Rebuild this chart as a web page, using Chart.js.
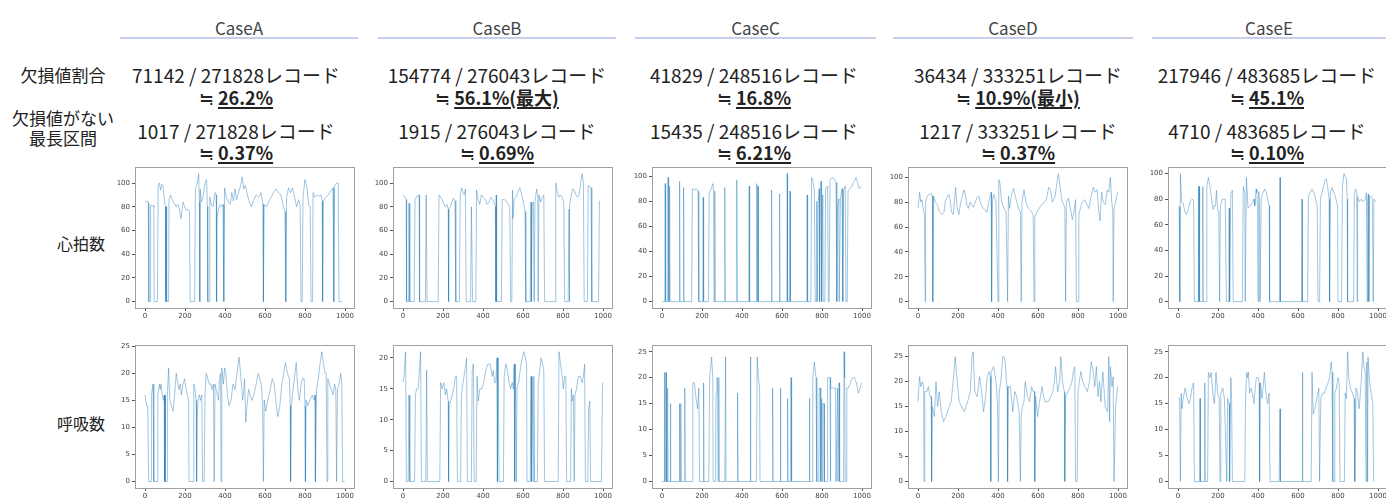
<!DOCTYPE html>
<html>
<head>
<meta charset="utf-8">
<script src="https://cdn.jsdelivr.net/npm/chart.js@4"></script>
<style>
  html, body { margin: 0; padding: 0; background: #fff; }
  body { width: 1386px; height: 498px; overflow: hidden; position: relative;
         font-family: "Noto Sans CJK JP", "Noto Sans", sans-serif; color: #222; }
  .abs { position: absolute; white-space: nowrap; }
  .head { font-size: 17px; color: #444; text-align: center; width: 240px; line-height: 20px; }
  .rule { height: 2px; background: #c9cfea; }
  .txt { font-size: 19px; text-align: center; width: 280px; line-height: 22px; }
  .pct { font-size: 18px; text-align: center; width: 280px; line-height: 22px; }
  .pct b { text-decoration: underline; text-underline-offset: 2px; text-decoration-thickness: 2px; }
  .lab { font-size: 17px; text-align: center; width: 120px; line-height: 20px; }
  .lab2 { font-size: 16px; text-align: center; width: 120px; line-height: 20px; }
  canvas { position: absolute; }
</style>
</head>
<body>
<script>
// ---- text ----
const cases = ['CaseA', 'CaseB', 'CaseC', 'CaseD', 'CaseE'];
const missingText = ['71142 / 271828レコード', '154774 / 276043レコード', '41829 / 248516レコード', '36434 / 333251レコード', '217946 / 483685レコード'];
const missingPct = ['26.2%', '56.1%(最大)', '16.8%', '10.9%(最小)', '45.1%'];
const longestText = ['1017 / 271828レコード', '1915 / 276043レコード', '15435 / 248516レコード', '1217 / 333251レコード', '4710 / 483685レコード'];
const longestPct = ['0.37%', '0.69%', '6.21%', '0.37%', '0.10%'];

// ---- tick labels ----
const xTicks = [0, 200, 400, 600, 800, 1000];
const hrTicks = [0, 20, 40, 60, 80, 100];
const resTicks = [0, 5, 10, 15, 20, 25];
const resTicksB = [0, 5, 10, 15, 20];

// ---- heart rate (心拍数) [index, value] ----
const hrA = [[0,85],[8,84],[14,85],[17,83],[19,0],[26,0],[28,81],[40,81],[44,80],[46,0],[62,0],[66,98],[72,100],[78,94],[84,99],[90,98],[96,88],[102,80],[104,0],[106,80],[108,0],[118,0],[120,86],[128,90],[136,86],[146,83],[156,80],[164,82],[172,78],[180,70],[190,84],[198,80],[206,77],[214,78],[222,76],[226,0],[248,0],[252,95],[262,100],[268,108],[272,84],[274,0],[276,95],[282,84],[290,88],[300,100],[308,103],[312,80],[314,0],[322,0],[324,88],[332,82],[340,80],[350,92],[356,90],[358,0],[360,70],[368,78],[376,82],[384,80],[390,82],[394,0],[398,96],[406,88],[416,84],[426,82],[434,92],[442,85],[450,95],[458,86],[468,92],[478,98],[486,105],[494,95],[502,98],[512,90],[522,84],[532,80],[544,86],[556,90],[568,88],[580,92],[590,82],[592,0],[596,82],[606,80],[618,84],[630,88],[642,92],[654,95],[666,92],[680,90],[692,80],[700,76],[704,0],[708,88],[718,96],[728,92],[738,96],[748,88],[758,80],[768,86],[776,82],[780,0],[786,0],[790,88],[800,103],[810,96],[818,82],[826,80],[830,0],[838,0],[840,92],[850,88],[860,90],[870,89],[880,90],[886,85],[888,0],[892,85],[904,88],[916,90],[928,93],[940,96],[944,0],[948,98],[958,100],[966,100],[970,0],[985,0]];
const hrB = [[0,90],[10,88],[16,86],[18,0],[28,0],[30,83],[34,0],[56,0],[60,86],[70,89],[80,90],[83,0],[112,0],[116,90],[120,0],[176,0],[180,90],[190,88],[200,84],[210,80],[220,82],[226,78],[228,0],[230,78],[236,80],[244,84],[252,87],[260,85],[264,0],[282,0],[286,90],[294,96],[300,92],[306,90],[312,95],[316,0],[338,0],[342,80],[348,0],[364,0],[368,94],[376,86],[384,82],[392,90],[402,88],[412,86],[420,82],[430,84],[440,88],[450,86],[458,82],[462,80],[464,0],[466,90],[468,0],[492,0],[496,86],[506,86],[516,85],[526,82],[534,80],[538,0],[544,0],[548,94],[550,70],[556,86],[564,88],[574,92],[584,96],[594,90],[602,84],[610,76],[614,0],[636,0],[640,84],[642,0],[646,82],[652,84],[656,0],[660,85],[668,95],[674,88],[676,0],[680,90],[688,84],[696,88],[704,90],[708,0],[760,0],[764,100],[772,92],[780,88],[788,90],[796,88],[804,84],[808,0],[826,0],[830,78],[832,0],[834,82],[840,88],[848,95],[856,94],[864,90],[872,88],[880,90],[888,100],[896,108],[902,100],[906,0],[922,0],[926,98],[934,97],[940,96],[944,0],[978,0],[982,85]];
const hrC = [[0,0],[14,0],[16,94],[18,0],[28,0],[30,99],[32,0],[34,93],[36,0],[38,92],[40,0],[86,0],[88,96],[90,0],[106,0],[108,91],[110,0],[148,0],[152,90],[162,89],[172,90],[180,88],[184,0],[204,0],[206,83],[208,0],[232,0],[236,86],[246,90],[254,94],[258,88],[260,0],[264,88],[266,0],[312,0],[314,91],[316,0],[372,0],[374,97],[376,0],[434,0],[436,92],[438,0],[472,0],[474,94],[476,0],[480,92],[482,0],[546,0],[548,89],[550,0],[586,0],[588,86],[590,0],[624,0],[626,102],[628,0],[638,0],[640,88],[642,0],[724,0],[726,85],[728,0],[744,0],[748,99],[756,95],[762,88],[766,0],[772,0],[774,80],[776,0],[780,76],[786,90],[788,0],[792,95],[796,96],[798,0],[804,85],[806,0],[814,0],[818,90],[828,92],[832,0],[836,0],[840,97],[850,99],[860,98],[870,95],[874,0],[878,75],[884,82],[886,0],[892,82],[900,90],[904,0],[908,88],[916,92],[920,0],[926,0],[930,88],[940,90],[950,92],[962,96],[970,99],[978,95],[986,90],[998,92]];
const hrD = [[0,75],[8,88],[14,80],[20,82],[26,75],[32,70],[36,0],[38,80],[46,85],[56,86],[66,87],[72,85],[74,0],[78,85],[86,80],[96,78],[108,72],[120,70],[130,72],[136,80],[148,85],[156,86],[162,80],[168,72],[176,70],[188,92],[196,75],[204,70],[214,80],[222,85],[230,90],[238,85],[244,78],[252,75],[260,80],[268,78],[276,76],[286,80],[296,84],[304,85],[312,80],[322,76],[334,74],[344,72],[354,80],[366,88],[368,0],[372,82],[380,86],[390,80],[400,0],[404,98],[410,95],[418,80],[430,75],[440,72],[448,0],[452,85],[458,75],[466,85],[478,91],[486,85],[494,80],[502,75],[512,72],[516,0],[520,80],[530,90],[540,80],[552,75],[564,73],[576,70],[580,0],[584,68],[594,72],[606,75],[618,78],[632,80],[642,82],[654,92],[662,90],[672,80],[686,85],[694,95],[702,103],[712,90],[722,80],[734,76],[738,0],[742,80],[752,83],[762,75],[772,66],[780,72],[788,82],[792,0],[800,0],[804,70],[812,75],[822,80],[834,82],[844,78],[854,75],[866,85],[876,92],[886,88],[896,90],[902,75],[910,65],[918,88],[926,80],[936,78],[946,90],[954,88],[962,100],[968,82],[974,72],[976,0],[980,75],[988,80],[998,88]];
const hrE = [[0,75],[6,74],[9,0],[12,100],[18,78],[26,77],[34,70],[42,68],[51,72],[60,78],[70,80],[78,79],[82,0],[100,0],[102,90],[104,0],[106,90],[108,0],[122,0],[124,90],[126,0],[140,0],[144,90],[152,97],[160,90],[168,80],[176,72],[182,75],[188,75],[192,87],[198,72],[204,70],[208,0],[212,75],[222,80],[236,80],[242,0],[254,0],[256,73],[258,0],[264,84],[272,87],[276,0],[322,0],[326,90],[334,85],[336,0],[342,97],[350,73],[362,75],[374,78],[380,80],[384,75],[390,88],[394,85],[398,73],[400,0],[404,86],[408,72],[410,0],[416,80],[424,85],[434,88],[442,85],[450,78],[456,75],[458,0],[508,0],[510,97],[512,0],[618,0],[620,80],[622,0],[648,0],[652,82],[660,85],[670,88],[680,85],[688,80],[696,75],[700,0],[708,0],[712,80],[720,85],[728,90],[736,95],[742,96],[748,90],[752,85],[756,80],[758,0],[762,85],[770,89],[780,85],[790,80],[798,75],[800,0],[818,0],[822,90],[830,100],[836,98],[842,96],[846,80],[848,0],[878,0],[882,85],[888,88],[894,85],[896,0],[898,82],[906,78],[916,80],[926,78],[936,80],[942,85],[946,0],[948,80],[952,84],[954,0],[958,82],[966,82],[972,80],[976,0],[980,80],[990,78]];

// ---- respiration (呼吸数) [index, value] ----
const resA = [[0,16],[8,14],[14,14],[18,0],[30,0],[32,16],[40,18],[44,0],[60,0],[64,16],[72,18],[76,17],[80,18],[86,16],[92,15],[96,16],[98,0],[100,16],[102,0],[110,0],[112,16],[118,21],[124,15],[132,14],[140,13],[148,16],[156,20],[164,18],[170,17],[176,18],[182,16],[190,18],[198,19],[206,17],[212,16],[218,15],[220,0],[240,0],[244,18],[250,17],[256,15],[258,0],[262,13],[266,15],[272,16],[278,15],[284,16],[288,0],[296,0],[300,16],[306,20],[314,19],[322,18],[330,18],[336,17],[342,18],[346,0],[350,18],[356,17],[362,16],[368,15],[372,19],[378,20],[380,0],[384,21],[392,18],[398,21],[404,20],[412,16],[420,14],[430,15],[440,18],[450,17],[460,20],[470,23],[478,20],[484,17],[488,15],[492,16],[498,19],[504,11],[510,14],[518,17],[526,16],[534,15],[544,16],[556,18],[566,20],[574,19],[582,18],[588,14],[592,0],[596,15],[604,13],[614,15],[626,17],[636,19],[646,18],[654,15],[664,12],[674,14],[684,18],[694,20],[702,22],[712,20],[722,19],[726,14],[728,0],[732,14],[740,17],[750,20],[756,22],[764,17],[772,15],[780,18],[788,19],[796,19],[800,14],[802,0],[806,15],[814,14],[824,15],[836,16],[846,15],[850,16],[852,0],[858,17],[866,19],[876,22],[884,24],[892,22],[900,20],[906,20],[910,0],[914,19],[922,18],[932,17],[940,16],[948,18],[954,17],[958,0],[962,17],[970,18],[978,20],[984,18],[988,0],[998,0]];
const resB = [[0,16],[5,17],[13,21],[17,0],[26,0],[30,14],[34,0],[58,0],[62,14],[68,15],[76,15],[82,18],[88,21],[92,0],[114,0],[118,18],[122,0],[184,0],[188,16],[196,15],[204,16],[212,14],[218,15],[226,13],[228,0],[230,12],[238,13],[246,14],[254,15],[262,17],[268,17],[272,0],[288,0],[292,14],[300,16],[310,18],[318,20],[322,0],[342,0],[346,18],[352,19],[356,0],[366,0],[370,17],[376,13],[384,15],[394,15],[404,16],[414,18],[424,19],[436,19],[446,17],[452,18],[458,16],[464,16],[470,20],[472,0],[476,20],[480,0],[502,0],[506,17],[514,19],[522,18],[530,16],[538,15],[546,16],[552,15],[556,19],[558,0],[562,19],[566,0],[570,15],[578,16],[586,18],[596,20],[604,21],[612,20],[618,19],[620,0],[636,0],[640,17],[642,0],[646,17],[650,0],[654,17],[658,0],[672,0],[676,16],[684,18],[690,20],[698,19],[704,18],[708,0],[776,0],[780,21],[788,19],[796,17],[802,15],[808,17],[814,17],[818,0],[838,0],[842,15],[846,13],[852,14],[856,0],[860,14],[868,15],[876,17],[886,17],[896,16],[902,17],[908,19],[912,0],[924,0],[928,12],[934,13],[938,0],[992,0],[998,16]];
const resC = [[0,0],[10,0],[12,21],[14,0],[18,0],[20,21],[22,0],[26,0],[28,18],[30,0],[40,0],[42,15],[44,0],[86,0],[88,15],[90,0],[94,15],[96,0],[112,0],[114,18],[116,0],[150,0],[154,19],[162,19],[170,16],[178,14],[184,18],[188,0],[206,0],[208,19],[210,0],[234,0],[238,20],[248,24],[254,20],[256,0],[268,0],[270,17],[274,20],[278,20],[280,0],[284,20],[286,0],[314,0],[318,24],[320,0],[376,0],[378,17],[380,0],[440,0],[442,24],[444,0],[472,0],[476,24],[482,20],[488,18],[490,0],[550,0],[553,18],[556,0],[590,0],[592,18],[594,0],[626,0],[628,16],[630,0],[642,0],[645,20],[648,0],[735,0],[737,16],[739,0],[750,0],[754,20],[762,23],[770,20],[774,0],[784,0],[786,18],[792,18],[794,0],[798,16],[800,0],[804,15],[810,15],[812,0],[826,0],[828,20],[840,20],[842,0],[844,18],[856,18],[868,18],[870,0],[874,0],[878,18],[880,0],[886,19],[888,0],[908,0],[910,25],[912,20],[914,25],[916,0],[920,0],[924,18],[932,18],[942,19],[952,20],[962,20],[972,19],[982,17],[990,18],[998,19]];
const resD = [[0,16],[8,21],[14,19],[22,20],[28,19],[30,0],[34,18],[44,18],[52,19],[60,17],[66,17],[68,0],[72,15],[82,13],[90,20],[98,15],[106,18],[116,14],[128,12],[140,13],[156,15],[166,16],[178,21],[186,25],[196,20],[206,16],[218,15],[232,14],[248,16],[262,18],[270,25],[276,26],[284,18],[296,17],[308,21],[318,18],[328,14],[338,17],[346,21],[356,22],[362,21],[364,0],[366,22],[378,23],[390,20],[398,15],[402,0],[406,18],[414,20],[424,25],[430,25],[436,24],[442,20],[446,19],[448,0],[452,19],[462,19],[474,14],[484,18],[494,17],[506,14],[512,0],[516,13],[522,15],[530,16],[536,20],[548,17],[558,16],[568,19],[576,18],[582,18],[584,0],[588,17],[598,13],[608,16],[620,19],[628,17],[636,16],[652,16],[664,17],[674,18],[682,20],[688,23],[698,18],[708,20],[714,25],[722,20],[732,18],[734,0],[738,17],[750,18],[762,19],[770,20],[776,22],[784,23],[788,0],[796,0],[800,18],[814,22],[824,20],[834,19],[846,18],[858,20],[866,24],[876,22],[884,19],[892,23],[900,17],[908,20],[914,16],[924,22],[936,15],[948,14],[954,25],[958,12],[962,23],[970,19],[976,21],[980,0],[984,0],[988,15],[998,19]];
const resE = [[0,16],[8,16],[12,0],[16,17],[20,14],[26,16],[36,18],[46,16],[54,15],[62,16],[70,18],[78,19],[82,0],[108,0],[110,16],[112,0],[132,0],[134,19],[136,0],[148,0],[152,21],[160,20],[166,21],[174,17],[182,15],[190,21],[198,17],[206,16],[210,0],[214,17],[224,18],[232,16],[244,0],[248,16],[256,15],[258,0],[264,20],[268,16],[272,0],[334,0],[338,17],[344,21],[348,20],[352,21],[358,17],[366,18],[372,17],[380,15],[386,18],[392,20],[402,20],[406,19],[408,0],[412,19],[420,16],[432,21],[440,17],[448,15],[456,17],[460,0],[506,0],[510,14],[512,0],[620,0],[622,21],[624,0],[666,0],[670,21],[676,13],[684,14],[694,16],[704,18],[708,0],[714,16],[722,17],[732,17],[740,18],[750,19],[758,20],[766,23],[770,21],[774,0],[780,0],[784,17],[792,18],[800,20],[806,19],[810,0],[832,0],[836,17],[842,16],[848,25],[854,20],[862,18],[872,17],[880,16],[884,0],[890,18],[898,17],[906,14],[914,18],[924,25],[930,22],[936,21],[940,0],[944,23],[948,0],[950,24],[958,19],[966,17],[974,15],[978,0]];

const hrSeries = [hrA, hrB, hrC, hrD, hrE];
const resSeries = [resA, resB, resC, resD, resE];
const resTickSets = [resTicks, resTicksB, resTicks, resTicks, resTicks];

// ---- layout ----
const colCenter = [236, 497, 754, 1018, 1267];
const ruleSpan = [[120, 358], [378, 616], [635, 876], [893, 1133], [1152, 1386]];
const plotLeft = [135, 393, 652, 908, 1168];
const PLOT_W = 220, AXIS_W = 24, AXIS_H = 14, PAD_TOP = 6;

function addDiv(cls, left, top, html) {
  const d = document.createElement('div');
  d.className = 'abs ' + cls;
  d.style.left = left + 'px';
  d.style.top = top + 'px';
  d.innerHTML = html;
  document.body.appendChild(d);
  return d;
}

// row labels
addDiv('lab', 3, 65, '欠損値割合');
addDiv('lab', 3, 108, '欠損値がない<br>最長区間');
addDiv('lab2', 21, 233, '心拍数');
addDiv('lab2', 21, 413, '呼吸数');

cases.forEach((c, i) => {
  addDiv('head', (ruleSpan[i][0] + ruleSpan[i][1]) / 2 - 120, 18, c);
  const r = addDiv('rule', ruleSpan[i][0], 37, '');
  r.style.width = (ruleSpan[i][1] - ruleSpan[i][0]) + 'px';
  addDiv('txt', colCenter[i] - 140, 64, missingText[i]);
  addDiv('pct', colCenter[i] - 140, 86, '≒ <b>' + missingPct[i] + '</b>');
  addDiv('txt', colCenter[i] - 140, 120, longestText[i]);
  addDiv('pct', colCenter[i] - 140, 141, '≒ <b>' + longestPct[i] + '</b>');
});

const framePlugin = {
  id: 'frame',
  afterDraw(chart) {
    const { ctx, chartArea: a } = chart;
    ctx.save();
    ctx.strokeStyle = '#a0a0a0';
    ctx.lineWidth = 1;
    ctx.strokeRect(Math.round(a.left) + 0.5, Math.round(a.top) + 0.5, Math.round(a.width) - 1, Math.round(a.height));
    ctx.restore();
  }
};

function makeChart(series, yTicks, left, plotTop, plotH) {
  const cv = document.createElement('canvas');
  const w = AXIS_W + PLOT_W + 2, h = PAD_TOP + plotH + AXIS_H;
  cv.width = w; cv.height = h;
  cv.style.left = (left - AXIS_W) + 'px';
  cv.style.top = (plotTop - PAD_TOP) + 'px';
  cv.style.width = w + 'px'; cv.style.height = h + 'px';
  document.body.appendChild(cv);

  const ys = series.map(p => p[1]);
  const yMax = Math.max(...ys), yMin = Math.min(...ys);
  const m = (yMax - yMin) * 0.05;
  const tickFont = { family: 'DejaVu Sans', size: 7 };

  new Chart(cv, {
    type: 'line',
    data: {
      datasets: [{
        data: series.map(p => ({ x: p[0], y: p[1] })),
        borderColor: 'rgba(31,119,180,0.42)',
        borderWidth: 1,
        pointRadius: 0,
        tension: 0,
        fill: false
      }]
    },
    options: {
      responsive: false,
      animation: false,
      layout: { padding: { top: PAD_TOP, right: 2, left: 0, bottom: 0 } },
      plugins: { legend: { display: false }, tooltip: { enabled: false } },
      scales: {
        x: {
          type: 'linear', min: -50, max: 1050,
          afterBuildTicks: s => { s.ticks = xTicks.map(v => ({ value: v })); },
          afterFit: s => { s.height = AXIS_H; },
          grid: { display: true, drawOnChartArea: false, tickLength: 3, color: '#555' },
          border: { display: false },
          ticks: { font: tickFont, color: '#444', padding: 1, maxRotation: 0, autoSkip: false,
                   callback: v => String(v) }
        },
        y: {
          type: 'linear', min: yMin - m, max: yMax + m,
          afterBuildTicks: s => { s.ticks = yTicks.map(v => ({ value: v })); },
          afterFit: s => { s.width = AXIS_W; },
          grid: { display: true, drawOnChartArea: false, tickLength: 3, color: '#555' },
          border: { display: false },
          ticks: { font: tickFont, color: '#444', padding: 2, autoSkip: false,
                   callback: v => String(v) }
        }
      }
    },
    plugins: [framePlugin]
  });
}

hrSeries.forEach((s, i) => makeChart(s, hrTicks, plotLeft[i], 167, 141));
resSeries.forEach((s, i) => makeChart(s, resTickSets[i], plotLeft[i], 345, 143));
</script>
</body>
</html>
